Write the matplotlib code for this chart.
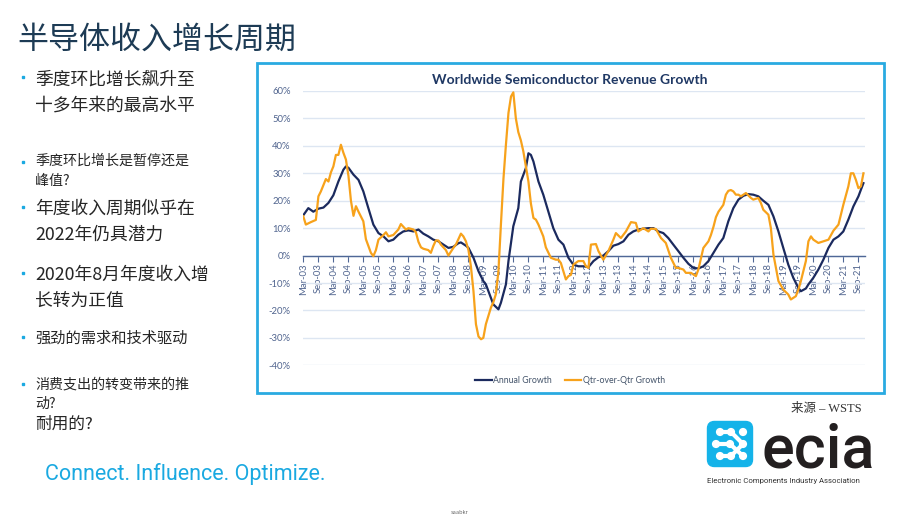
import matplotlib.pyplot as plt
import pandas as pd
from matplotlib.patches import FancyBboxPatch, Rectangle, Circle

plt.rcParams['font.family'] = ['Noto Sans CJK SC', 'DejaVu Sans']

# WSTS data (percent)
annual_dates = [
    '2003-03', '2003-05', '2003-07', '2003-09', '2003-11', '2004-01', '2004-03', '2004-05',
    '2004-07', '2004-08', '2004-09', '2004-11', '2005-01', '2005-03', '2005-05', '2005-07',
    '2005-09', '2005-11', '2006-01', '2006-03', '2006-05', '2006-07', '2006-09', '2006-11',
    '2007-01', '2007-03', '2007-05', '2007-07', '2007-09', '2007-11', '2008-01', '2008-03',
    '2008-05', '2008-06', '2008-08', '2008-09', '2008-11', '2009-01', '2009-03', '2009-04',
    '2009-06', '2009-07', '2009-09', '2009-10', '2009-12', '2010-01', '2010-03', '2010-05',
    '2010-06', '2010-08', '2010-09', '2010-10', '2010-11', '2011-01', '2011-03', '2011-05',
    '2011-07', '2011-09', '2011-11', '2012-01', '2012-03', '2012-05', '2012-07', '2012-09',
    '2012-11', '2013-01', '2013-03', '2013-05', '2013-07', '2013-09', '2013-11', '2014-01',
    '2014-03', '2014-05', '2014-07', '2014-09', '2014-11', '2015-01', '2015-03', '2015-05',
    '2015-07', '2015-09', '2015-11', '2016-01', '2016-03', '2016-05', '2016-07', '2016-09',
    '2016-11', '2017-01', '2017-03', '2017-05', '2017-07', '2017-09', '2017-11', '2018-01',
    '2018-03', '2018-05', '2018-07', '2018-09', '2018-11', '2019-01', '2019-03', '2019-05',
    '2019-07', '2019-09', '2019-10', '2019-12', '2020-01', '2020-03', '2020-05', '2020-07',
    '2020-09', '2020-11', '2021-01', '2021-03', '2021-05', '2021-07', '2021-09', '2021-10',
    '2021-11',
]
annual_growth = [
    14.7, 17.3, 16.0, 17.1, 17.5, 19.2, 22.0, 27.0,
    31.3, 32.5, 32.0, 29.5, 27.6, 23.4, 17.3, 11.3,
    8.2, 7.0, 5.2, 5.8, 7.6, 8.8, 9.2, 8.8,
    9.5, 8.0, 7.0, 5.8, 5.2, 4.0, 2.8, 3.2,
    4.5, 4.8, 3.6, 2.8, -0.8, -5.7, -9.3, -10.5,
    -15.4, -17.8, -19.6, -17.2, -10.5, -2.0, 10.7, 17.3,
    27.0, 31.9, 37.3, 36.7, 34.3, 27.0, 22.2, 16.1,
    10.0, 5.8, 4.0, -0.8, -3.3, -3.9, -3.9, -4.2,
    -2.0, -0.6, 0.0, 1.6, 3.6, 4.2, 5.2, 7.6,
    8.8, 9.5, 9.8, 10.0, 10.0, 8.8, 8.2, 6.4,
    4.0, 1.6, -0.8, -3.0, -4.5, -4.7, -3.9, -2.0,
    1.0, 4.0, 6.4, 12.5, 17.3, 20.4, 21.8, 22.4,
    22.2, 21.6, 20.0, 18.5, 14.3, 8.8, 2.8, -3.3,
    -8.1, -11.8, -13.0, -12.0, -10.5, -8.1, -5.1, -1.5,
    2.8, 5.8, 7.0, 8.8, 13.1, 17.9, 21.6, 24.0,
    26.4,
]

qoq_dates = [
    '2003-03', '2003-04', '2003-06', '2003-08', '2003-09', '2003-10', '2003-12', '2004-01',
    '2004-02', '2004-03', '2004-04', '2004-05', '2004-06', '2004-07', '2004-08', '2004-09',
    '2004-10', '2004-11', '2004-12', '2005-01', '2005-03', '2005-04', '2005-06', '2005-07',
    '2005-08', '2005-09', '2005-11', '2005-12', '2006-01', '2006-03', '2006-05', '2006-06',
    '2006-08', '2006-09', '2006-11', '2006-12', '2007-01', '2007-02', '2007-03', '2007-05',
    '2007-06', '2007-07', '2007-08', '2007-09', '2007-10', '2007-12', '2008-01', '2008-03',
    '2008-04', '2008-06', '2008-07', '2008-08', '2008-09', '2008-10', '2008-11', '2008-12',
    '2009-01', '2009-02', '2009-03', '2009-04', '2009-05', '2009-06', '2009-07', '2009-08',
    '2009-09', '2009-10', '2009-11', '2009-12', '2010-01', '2010-02', '2010-03', '2010-04',
    '2010-05', '2010-06', '2010-07', '2010-08', '2010-09', '2010-10', '2010-11', '2010-12',
    '2011-01', '2011-02', '2011-03', '2011-04', '2011-06', '2011-08', '2011-09', '2011-10',
    '2011-12', '2012-01', '2012-02', '2012-03', '2012-05', '2012-07', '2012-08', '2012-09',
    '2012-10', '2012-12', '2013-01', '2013-03', '2013-05', '2013-07', '2013-08', '2013-10',
    '2013-12', '2014-02', '2014-04', '2014-05', '2014-07', '2014-09', '2014-10', '2014-12',
    '2015-02', '2015-04', '2015-06', '2015-08', '2015-09', '2015-11', '2015-12', '2016-02',
    '2016-04', '2016-05', '2016-07', '2016-09', '2016-10', '2016-11', '2016-12', '2017-01',
    '2017-03', '2017-04', '2017-05', '2017-06', '2017-07', '2017-08', '2017-09', '2017-10',
    '2017-12', '2018-02', '2018-03', '2018-05', '2018-06', '2018-07', '2018-09', '2018-10',
    '2018-11', '2019-01', '2019-03', '2019-05', '2019-06', '2019-08', '2019-09', '2019-10',
    '2019-12', '2020-01', '2020-02', '2020-03', '2020-05', '2020-07', '2020-09', '2020-11',
    '2021-01', '2021-03', '2021-05', '2021-06', '2021-07', '2021-08', '2021-09', '2021-10',
    '2021-11',
]
qoq_growth = [
    14.3, 11.3, 12.2, 13.0, 21.6, 23.4, 27.9, 27.0,
    30.4, 32.5, 36.7, 36.7, 40.4, 37.5, 35.0, 29.0,
    20.0, 14.5, 18.0, 16.0, 12.5, 6.0, 1.0, -0.2,
    2.0, 5.8, 7.5, 8.5, 7.0, 7.5, 9.5, 11.5,
    9.5, 10.0, 9.5, 8.5, 5.0, 3.0, 2.5, 2.0,
    1.0, 3.5, 5.5, 5.5, 4.0, 2.0, 0.0, 2.8,
    4.0, 8.0, 7.0, 5.2, 2.0, -4.0, -13.0, -25.0,
    -29.5, -30.5, -30.0, -25.0, -22.0, -19.0, -17.0, -14.0,
    -5.7, 11.3, 28.0, 40.4, 52.0, 58.0, 59.5, 50.0,
    45.0, 42.0, 38.0, 32.5, 27.0, 19.0, 13.7, 13.1,
    11.3, 9.0, 7.0, 3.0, -0.8, -1.5, -1.5, -2.7,
    -8.7, -7.5, -7.0, -3.3, -2.0, -2.0, -3.9, -4.5,
    4.0, 4.2, 1.6, -1.5, 1.6, 5.8, 8.2, 6.4,
    8.8, 12.2, 11.9, 8.8, 10.0, 8.8, 9.8, 9.7,
    6.4, 4.6, -0.8, -4.5, -4.5, -5.1, -6.3, -6.3,
    -7.5, -5.1, 2.8, 5.2, 7.5, 10.5, 14.0, 16.0,
    18.5, 22.2, 23.6, 23.9, 23.4, 22.2, 22.2, 21.6,
    22.8, 21.0, 20.4, 21.0, 19.2, 16.7, 14.9, 10.0,
    0.4, -9.3, -12.4, -14.2, -16.0, -14.8, -12.4, -9.3,
    -2.0, 5.2, 7.0, 5.8, 4.6, 5.2, 5.8, 9.1,
    11.3, 18.5, 25.2, 30.0, 30.0, 27.6, 24.6, 25.2,
    30.0,
]

tick_dates = pd.date_range('2003-03-01', '2021-09-01', freq='6MS')
y_ticks = [-40, -30, -20, -10, 0, 10, 20, 30, 40, 50, 60]

navy = '#1b2a5e'
orange = '#f7a21b'
cyan = '#1aa9e1'
axis_txt = '#51658f'

W, H = 920, 518


def fx(x):
    return x / W


def fy(y):
    return 1 - y / H


fig = plt.figure(figsize=(9.2, 5.18), dpi=100)
fig.patch.set_facecolor('white')

# slide title
fig.text(fx(17), fy(40), '半导体收入增长周期', fontsize=22.3, color='#1d3b55',
         ha='left', va='center', fontweight='light')

# bullet points: (lines, font size, y of each line, y of the dot)
bullets = [
    (['季度环比增长飙升至', '十多年来的最高水平'], 12.8, [80, 106], 77),
    (['季度环比增长是暂停还是', '峰值?'], 10.1, [161, 181], 162),
    (['年度收入周期似乎在', '2022年仍具潜力'], 12.8, [209, 235], 207),
    (['2020年8月年度收入增', '长转为正值'], 12.8, [275, 301], 273),
    (['强劲的需求和技术驱动'], 11.0, [338], 337),
    (['消费支出的转变带来的推', '动?'], 10.1, [384, 404], 384),
]
for lines, size, ys, dot_y in bullets:
    fig.add_artist(Rectangle((fx(22), fy(dot_y + 1)), 2 / W, 2 / H, color=cyan,
                             transform=fig.transFigure))
    for line, y in zip(lines, ys):
        fig.text(fx(35.5), fy(y), line, fontsize=size, color='#262626',
                 ha='left', va='center', fontweight='light')
fig.text(fx(35.5), fy(424), '耐用的?', fontsize=12, color='#262626',
         ha='left', va='center', fontweight='light')

fig.text(fx(45), fy(474), 'Connect. Influence. Optimize.', fontsize=15.5, color=cyan,
         ha='left', va='center', family=['Roboto', 'DejaVu Sans'])

# chart frame
fig.add_artist(Rectangle((fx(257), fy(393)), 627 / W, 330 / H, fill=False,
                         edgecolor='#29aae1', lw=2, transform=fig.transFigure))
fig.text(fx(570), fy(80.5), 'Worldwide Semiconductor Revenue Growth', fontsize=10,
         fontweight='bold', color='#1f3864', ha='center', va='center',
         family=['Lato', 'DejaVu Sans'])

ax = fig.add_axes([fx(303.3), fy(365.3), (865 - 303.3) / W, 274.3 / H])
a_x = pd.to_datetime(annual_dates, format='%Y-%m')
q_x = pd.to_datetime(qoq_dates, format='%Y-%m')
l1, = ax.plot(a_x, annual_growth, color=navy, lw=1.6, label='Annual Growth', zorder=3)
l2, = ax.plot(q_x, qoq_growth, color=orange, lw=1.6, label='Qtr-over-Qtr Growth', zorder=4)

for s in ['top', 'right', 'left']:
    ax.spines[s].set_visible(False)
ax.spines['bottom'].set_position(('data', 0))
ax.spines['bottom'].set_color('#4f6796')
ax.spines['bottom'].set_linewidth(1)
ax.spines['bottom'].set_zorder(2)

ax.set_xlim(pd.Timestamp('2003-03-01'), pd.Timestamp('2021-11-20'))
ax.set_ylim(-40, 60)
ax.set_yticks(y_ticks)
ax.set_yticklabels([f'{v}%' for v in y_ticks])
ax.set_xticks(tick_dates)
ax.set_xticklabels([d.strftime('%b-%y') for d in tick_dates])
ax.yaxis.grid(True, color='#dde6f2', lw=1)
ax.set_axisbelow(True)
ax.tick_params(axis='x', direction='out', length=4, color='#4f6796', labelsize=6.8,
               labelcolor=axis_txt, pad=1.5, labelrotation=90)
ax.tick_params(axis='y', length=0, labelsize=6.8, labelcolor=axis_txt, pad=9)
for t in ax.get_xticklabels() + ax.get_yticklabels():
    t.set_family(['Lato', 'DejaVu Sans'])
ax.patch.set_alpha(0)

leg = fig.legend(handles=[l1, l2], loc='center', bbox_to_anchor=(fx(570), fy(380.7)),
                 ncol=2, frameon=False, handlelength=1.9,
                 handletextpad=0.15, columnspacing=1.5,
                 prop={'family': ['Lato', 'DejaVu Sans'], 'size': 6.3})
for t in leg.get_texts():
    t.set_color('#44546a')

# source note
fig.text(fx(862), fy(409), '来源 – WSTS', fontsize=9, color='#333333', ha='right',
         va='center', family=['Liberation Serif', 'Noto Sans CJK SC'])

# ECIA logo
lax = fig.add_axes([fx(706), fy(468), 48 / W, 48 / H])
lax.set_xlim(0, 48)
lax.set_ylim(48, 0)
lax.axis('off')
lax.add_patch(FancyBboxPatch((1.5, 1.5), 45, 45, boxstyle='round,pad=0,rounding_size=7',
                             color='#14b3e9'))
dots = [(14, 12), (25, 12), (37, 12), (10, 24), (24, 24), (37, 24), (14, 36), (25, 36), (37, 36)]
for (cx, cy) in dots:
    lax.add_patch(Circle((cx, cy), 3.4, color='white'))
for (x0, y0, x1, y1) in [(14, 12, 25, 12), (25, 12, 37, 24), (10, 24, 24, 24),
                         (24, 24, 37, 36), (14, 36, 25, 36), (25, 36, 37, 24)]:
    lax.plot([x0, x1], [y0, y1], color='white', lw=3, solid_capstyle='round')

fig.text(fx(761), fy(467), 'ecia', fontsize=44, color='#231f20', ha='left',
         va='baseline', family=['Roboto', 'DejaVu Sans'], fontweight='medium')
fig.text(fx(707), fy(481), 'Electronic Components Industry Association', fontsize=5.6,
         color='#333333', ha='left', va='center', family=['Roboto', 'DejaVu Sans'])

fig.text(fx(460), fy(512), 'saabkr', fontsize=4, color='#666666', ha='center', va='center')

fig.savefig('out.png', dpi=100)
